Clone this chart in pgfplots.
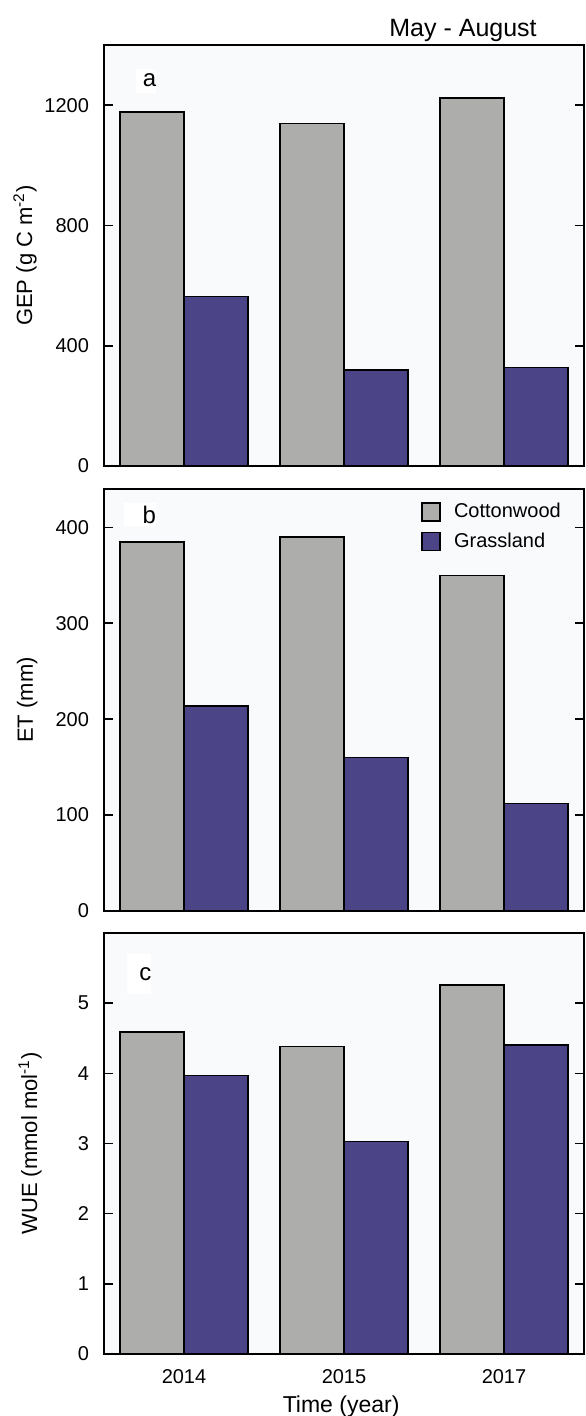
\documentclass[border=0pt]{standalone}
\usepackage{fontspec}
\setmainfont{Liberation Sans}
\usepackage{pgfplots}
\pgfplotsset{compat=1.18}
\definecolor{cw}{HTML}{ADADAB}
\definecolor{gl}{HTML}{4B4588}
\definecolor{bgc}{HTML}{F9FAFC}
\tikzset{plab/.style={fill=white, anchor=north west, inner sep=0pt, font=\fontsize{12}{14}\selectfont}}
\pgfplotsset{
  panel/.style={
    scale only axis, width=240pt, anchor=north west,
    xmin=-0.5, xmax=2.5, ymin=0,
    xtick={0,1,2},
    major tick length=4.5pt, tick align=inside,
    x tick style={draw=none},
    ytick pos=both, yticklabel pos=left,
    axis line style={line width=0.8pt},
    every tick/.style={black, line width=0.8pt},
    tick label style={font=\fontsize{10}{12}\selectfont},
    yticklabel style={xshift=-4pt},
    xticklabel style={yshift=-4pt},
    /pgf/number format/assume math mode=true,
    /pgf/number format/1000 sep={},
    ylabel style={font=\fontsize{11}{13}\selectfont},
    xlabel style={font=\fontsize{11.5}{13}\selectfont},
    axis background/.style={fill=bgc},
    legend image code/.code={\draw[#1, draw=black, line width=0.8pt] (0pt,-4.5pt) rectangle (9pt,4.5pt);},
  },
  cwbar/.style={ybar, bar width=0.4, bar shift=-0.2, fill=cw, draw=black, line width=0.8pt},
  glbar/.style={ybar, bar width=0.4, bar shift=0.2, fill=gl, draw=black, line width=0.8pt},
}
\begin{document}
\begin{tikzpicture}
\useasboundingbox (0,0) rectangle (292.5pt,-708pt);
% Panel a
\begin{axis}[panel, at={(52pt,-22.5pt)}, height=210.5pt,
  ymax=1400, ytick={0,400,800,1200}, xticklabels={},
  ylabel={GEP (g C m\textsuperscript{-2})},
  ylabel style={at={(axis description cs:-0.1646,0.5)}, anchor=center},
  title={May - August},
  every axis title shift=0pt,
  title style={at={(axis description cs:0.748,1.0333)}, anchor=center, font=\fontsize{12.5}{14}\selectfont},
]
\addplot[cwbar] coordinates {(0,1178) (1,1139) (2,1224)};
\addplot[glbar] coordinates {(0,563) (1,320) (2,327)};
\node[plab, minimum height=12pt] at (axis description cs:0.0667,0.945) {\hspace{3.2pt}a\hspace{12pt}};
\end{axis}
% Panel b
\begin{axis}[panel, at={(52pt,-244.5pt)}, height=211pt,
  ymax=440, ytick={0,100,200,300,400}, xticklabels={},
  ylabel={ET (mm)},
  ylabel style={at={(axis description cs:-0.160,0.5)}, anchor=center},
  legend style={at={(axis description cs:0.648,0.986)}, anchor=north west, draw=none, fill=none,
    font=\fontsize{10}{12}\selectfont, row sep=2pt,
    /tikz/every odd column/.append style={column sep=4.5pt}},
  legend cell align=left,
]
\addplot[cwbar] coordinates {(0,385) (1,390) (2,350)};
\addplot[glbar] coordinates {(0,214) (1,160) (2,112)};
\legend{Cottonwood, Grassland}
\node[plab, minimum height=11.5pt] at (axis description cs:0.04,0.967) {\hspace{9.5pt}b\hspace{13pt}};
\end{axis}
% Panel c
\begin{axis}[panel, at={(52pt,-466.5pt)}, height=210.5pt,
  ymax=6, ytick={0,1,2,3,4,5}, xticklabels={2014,2015,2017},
  ylabel={WUE (mmol mol\textsuperscript{-1})},
  ylabel style={at={(axis description cs:-0.154,0.5)}, anchor=center},
  xlabel={Time (year)},
  xlabel style={at={(axis description cs:0.494,0)}, yshift=-26.5pt, anchor=center},
]
\addplot[cwbar] coordinates {(0,4.59) (1,4.38) (2,5.26)};
\addplot[glbar] coordinates {(0,3.97) (1,3.03) (2,4.40)};
\node[plab, minimum height=20pt] at (axis description cs:0.048,0.95) {\hspace{6pt}c\hspace{33pt}};
\end{axis}
\end{tikzpicture}
\end{document}
